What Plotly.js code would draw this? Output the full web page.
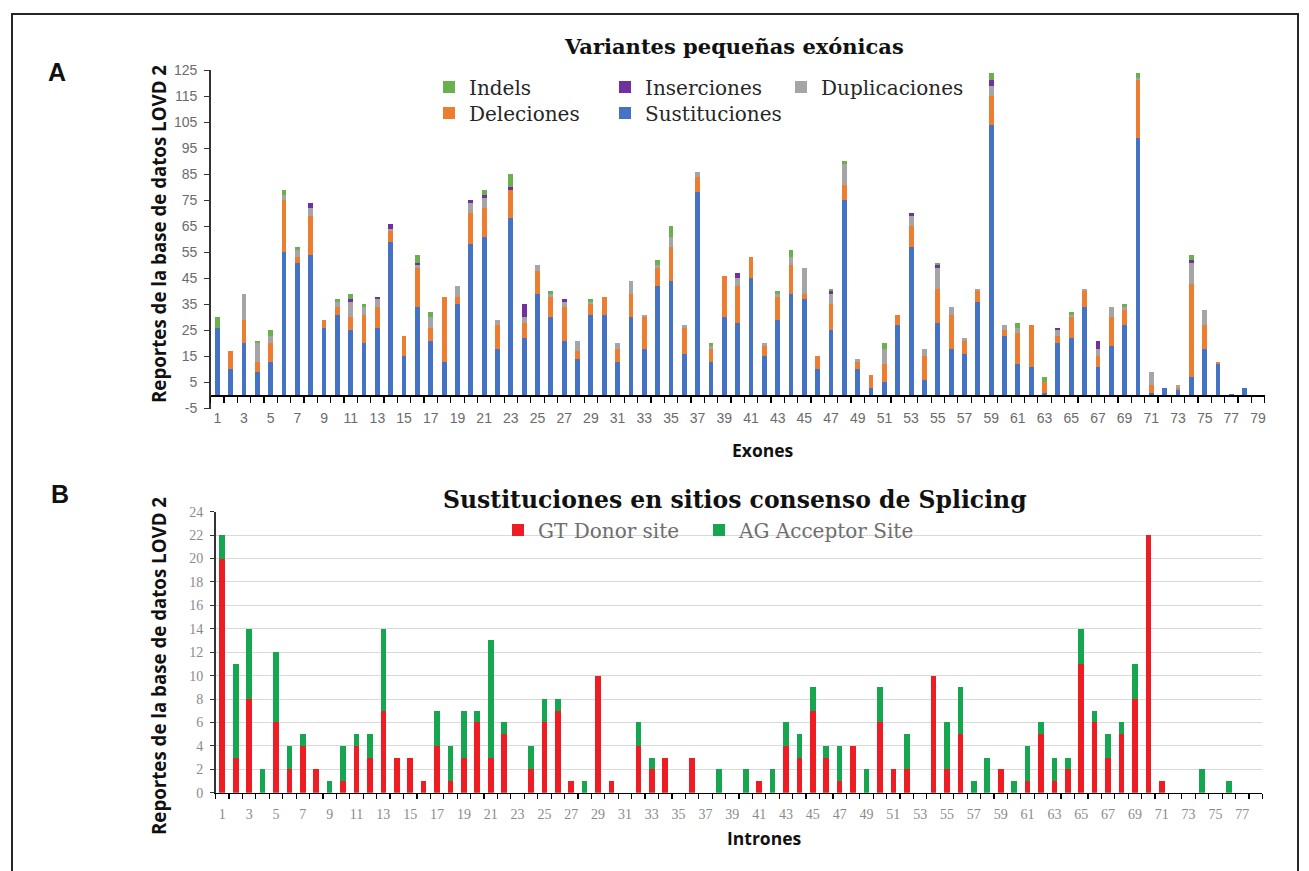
<!DOCTYPE html>
<html><head><meta charset="utf-8">
<script src="https://cdn.plot.ly/plotly-3.0.1.min.js"></script>
<style>
html,body{margin:0;padding:0;background:#fff;overflow:hidden}
#chart{width:1309px;height:871px}
#frame{position:absolute;left:11px;top:13px;width:1284px;height:900px;border:2px solid #262626;pointer-events:none}
</style></head><body>
<div id="chart"></div><div id="frame"></div>
<script>
// ---------- DATA (A) ----------
const exones = [1,2,3,4,5,6,7,8,9,10,11,12,13,14,15,16,17,18,19,20,21,22,23,24,25,26,27,28,29,30,31,32,33,34,35,36,37,38,39,40,41,42,43,44,45,46,47,48,49,50,51,52,53,54,55,56,57,58,59,60,61,62,63,64,65,66,67,68,69,70,71,72,73,74,75,76,77,78,79];
const sustituciones = [26,10,20,9,13,55,51,54,26,31,25,20,26,59,15,34,21,13,35,58,61,18,68,22,39,30,21,14,31,31,13,30,18,42,44,16,78,13,30,28,45,15,29,39,37,10,25,75,10,3,5,27,57,6,28,18,16,36,104,23,12,11,1,20,22,34,11,19,27,99,1,3,2,7,18,12,0.5,3,0];
const deleciones = [0,7,9,4,7,20,2,15,3,3,5,11,8,4,8,15,5,25,3,12,11,9,11,6,9,8,13,3,4,7,5,9,12,7,13,10,6,5,16,14,8,4,9,11,2,5,10,6,3,5,7,4,8,9,13,13,5,4,11,2,12,16,4,3,8,6,4,11,6,22,3,0,1,36,9,1,0,0,0];
const duplicaciones = [0,0,10,7,3,2,3,3,0,2,6,3,3,1,0,1,4,0,4,4,4,2,0,2,2,1,2,4,1,0,2,5,1,1,4,1,2,1,0,3,0,1,1,3,10,0,4,8,1,0,6,0,4,3,8,3,1,1,4,2,2,0,0,2,1,1,3,4,1,1,5,0,1,8,6,0,0,0,0];
const inserciones = [0,0,0,0,0,0,0,2,0,0,1,0,1,2,0,1,0,0,0,1,1,0,1,5,0,0,1,0,0,0,0,0,0,0,0,0,0,0,0,2,0,0,0,0,0,0,1,0,0,0,0,0,1,0,1,0,0,0,2,0,0,0,0,1,0,0,3,0,0,0,0,0,0,1,0,0,0,0,0];
const indels = [4,0,0,1,2,2,1,0,0,1,2,1,0,0,0,3,2,0,0,0,2,0,5,0,0,1,0,0,1,0,0,0,0,2,4,0,0,1,0,0,0,0,1,3,0,0,1,1,0,0,2,0,0,0,1,0,0,0,3,0,2,0,2,0,1,0,0,0,1,2,0,0,0,2,0,0,0,0,0];
const ticksA = [1,3,5,7,9,11,13,15,17,19,21,23,25,27,29,31,33,35,37,39,41,43,45,47,49,51,53,55,57,59,61,63,65,67,69,71,73,75,77,79];
const yTicksA = [-5,5,15,25,35,45,55,65,75,85,95,105,115,125];
const yGridA = [5,15,25,35,45,55,65,75,85,95,105,115,125];

// ---------- DATA (B) ----------
const intrones = [1,2,3,4,5,6,7,8,9,10,11,12,13,14,15,16,17,18,19,20,21,22,23,24,25,26,27,28,29,30,31,32,33,34,35,36,37,38,39,40,41,42,43,44,45,46,47,48,49,50,51,52,53,54,55,56,57,58,59,60,61,62,63,64,65,66,67,68,69,70,71,72,73,74,75,76,77,78];
const gtDonor = [20,3,8,0,6,2,4,2,0,1,4,3,7,3,3,1,4,1,3,6,3,5,0,2,6,7,1,0,10,1,0,4,2,3,0,3,0,0,0,0,1,0,4,3,7,3,1,4,0,6,2,2,0,10,2,5,0,0,2,0,1,5,1,2,11,6,3,5,8,22,1,0,0,0,0,0,0,0];
const agAcceptor = [2,8,6,2,6,2,1,0,1,3,1,2,7,0,0,0,3,3,4,1,10,1,0,2,2,1,0,1,0,0,0,2,1,0,0,0,0,2,0,2,0,2,2,2,2,1,3,0,2,3,0,3,0,0,4,4,1,3,0,1,3,1,2,1,3,1,2,1,3,0,0,0,0,2,0,1,0,0];
const ticksB = [1,3,5,7,9,11,13,15,17,19,21,23,25,27,29,31,33,35,37,39,41,43,45,47,49,51,53,55,57,59,61,63,65,67,69,71,73,75,77];

// ---------- LAYOUT HELPERS ----------
const W = 1309, H = 871;
const px = v => v / W;
const py = v => 1 - v / H;

const colA = {sus:'#4472C4', del:'#ED7D31', dup:'#A5A5A5', ins:'#7030A0', ind:'#6AB04C'};
const colB = {gt:'#EE1D23', ag:'#16A650'};

function barA(name, y, color, legend, lw){
  const t = {type:'bar', name:name, x:exones, y:y, xaxis:'x', yaxis:'y', width:0.36,
    marker:{color:color, line:{width:0}}, legend:legend, hoverinfo:'x+y+name'};
  if (lw) t.legendwidth = lw;
  return t;
}
const traces = [
  barA('Sustituciones', sustituciones, colA.sus, 'legend2', 170),
  barA('Deleciones', deleciones, colA.del, 'legend2'),
  barA('Duplicaciones', duplicaciones, colA.dup, 'legend', 170),
  barA('Inserciones', inserciones, colA.ins, 'legend'),
  barA('Indels', indels, colA.ind, 'legend'),
  {type:'bar', name:'GT Donor site', x:intrones, y:gtDonor, xaxis:'x2', yaxis:'y2', width:0.42,
    marker:{color:colB.gt, line:{width:0}}, legend:'legend3'},
  {type:'bar', name:'AG Acceptor Site', x:intrones, y:agAcceptor, xaxis:'x2', yaxis:'y2', width:0.42,
    marker:{color:colB.ag, line:{width:0}}, legend:'legend3', legendwidth:200}
];

const sansTick = {family:'Liberation Sans, Arial, sans-serif', size:14, color:'#6b6b6b'};
const serifTick = {family:'Liberation Serif, serif', size:14, color:'#8a8a8a'};
const legFont = {family:'DejaVu Serif, serif', size:20, color:'#262626'};
const titleFont = {family:'Open Sans, sans-serif', weight:700, color:'#111'};

const yA0 = 408.5, yA1 = 70;         // pixel rows of -5 and 125
const zeroA = yA0 - 5 * (yA0 - yA1) / 130;

const layout = {
  width: W, height: H, autosize:false,
  margin:{l:0, r:0, t:0, b:0, pad:0},
  paper_bgcolor:'#ffffff', plot_bgcolor:'rgba(0,0,0,0)',
  barmode:'stack',
  showlegend:true,
  xaxis:{domain:[px(210.6), px(1264.7)], range:[0.5, 79.5], anchor:'free', position:py(zeroA),
    tickmode:'array', tickvals:ticksA, ticktext:ticksA.map(String), ticks:'',
    showline:true, linecolor:'#000', linewidth:1.5, showgrid:false, zeroline:false,
    tickfont:sansTick, ticklabelstandoff:9,
    minor:{tick0:0.5, dtick:1, ticks:'outside', ticklen:6, tickcolor:'#000', tickwidth:1.2, showgrid:false}},
  yaxis:{domain:[py(yA0), py(yA1)], range:[-5,125], anchor:'x',
    tickmode:'array', tickvals:yTicksA, ticktext:yTicksA.map(String),
    ticks:'outside', ticklen:5, tickcolor:'#333', showline:true, linecolor:'#333', linewidth:1.5,
    showgrid:false, zeroline:false, tickfont:sansTick, ticklabelstandoff:4},
  yaxis3:{overlaying:'y', range:[-5,125], anchor:'x', tickmode:'array', tickvals:yGridA,
    showticklabels:false, ticks:'', showline:false, zeroline:false,
    showgrid:true, gridcolor:'#d9d9d9', gridwidth:1},
  xaxis2:{domain:[px(215.6), px(1262.4)], range:[0.5, 78.5], anchor:'y2',
    tickmode:'array', tickvals:ticksB, ticktext:ticksB.map(String), ticks:'',
    showline:true, linecolor:'#000', linewidth:1.5, showgrid:false, zeroline:false,
    tickfont:serifTick, ticklabelstandoff:8,
    minor:{tick0:0.5, dtick:1, ticks:'outside', ticklen:5, tickcolor:'#000', tickwidth:1.2, showgrid:false}},
  yaxis2:{domain:[py(792.7), py(511.7)], range:[0,24], anchor:'x2', tick0:0, dtick:2,
    ticks:'outside', ticklen:4, tickcolor:'#333', showline:true, linecolor:'#333', linewidth:1.5,
    showgrid:true, gridcolor:'#d9d9d9', zeroline:false, tickfont:serifTick, ticklabelstandoff:4},
  legend:{x:px(429), y:py(87), xanchor:'left', yanchor:'middle', orientation:'h',
    traceorder:'reversed', entrywidth:131, font:legFont, bgcolor:'rgba(0,0,0,0)'},
  legend2:{x:px(429), y:py(113), xanchor:'left', yanchor:'middle', orientation:'h',
    traceorder:'reversed', entrywidth:131, font:legFont, bgcolor:'rgba(0,0,0,0)'},
  legend3:{x:px(498), y:py(530), xanchor:'left', yanchor:'middle', orientation:'h',
    traceorder:'normal', entrywidth:156, font:{family:'DejaVu Serif, serif', size:20, color:'#6e6e6e'}, bgcolor:'rgba(0,0,0,0)'},
  annotations:[
    {text:'A', x:px(57), y:py(72), xref:'paper', yref:'paper', showarrow:false, xanchor:'center', yanchor:'middle',
      font:{family:'Liberation Sans, Arial, sans-serif', size:25, weight:700, color:'#111'}},
    {text:'B', x:px(60), y:py(494), xref:'paper', yref:'paper', showarrow:false, xanchor:'center', yanchor:'middle',
      font:{family:'Liberation Sans, Arial, sans-serif', size:25, weight:700, color:'#111'}},
    {text:'Variantes pequeñas exónicas', x:px(734), y:py(47), xref:'paper', yref:'paper', showarrow:false,
      xanchor:'center', yanchor:'middle', font:{family:'DejaVu Serif, serif', size:21, weight:700, color:'#111'}},
    {text:'Sustituciones en sitios consenso de Splicing', x:px(735), y:py(500), xref:'paper', yref:'paper', showarrow:false,
      xanchor:'center', yanchor:'middle', font:{family:'DejaVu Serif, serif', size:23.5, weight:700, color:'#111'}},
    {text:'Reportes de la base de datos LOVD 2', x:px(158), y:py(234), xref:'paper', yref:'paper', showarrow:false,
      textangle:-90, xanchor:'center', yanchor:'middle', font:Object.assign({size:18.7}, titleFont)},
    {text:'Reportes de la base de datos LOVD 2', x:px(158), y:py(666), xref:'paper', yref:'paper', showarrow:false,
      textangle:-90, xanchor:'center', yanchor:'middle', font:Object.assign({size:18.7}, titleFont)},
    {text:'Exones', x:px(763), y:py(450), xref:'paper', yref:'paper', showarrow:false,
      xanchor:'center', yanchor:'middle', font:Object.assign({size:17.5}, titleFont)},
    {text:'Intrones', x:px(764), y:py(838), xref:'paper', yref:'paper', showarrow:false,
      xanchor:'center', yanchor:'middle', font:Object.assign({size:17.5}, titleFont)}
  ]
};

Plotly.newPlot('chart', traces, layout, {displayModeBar:false, staticPlot:true});
</script>
</body></html>
